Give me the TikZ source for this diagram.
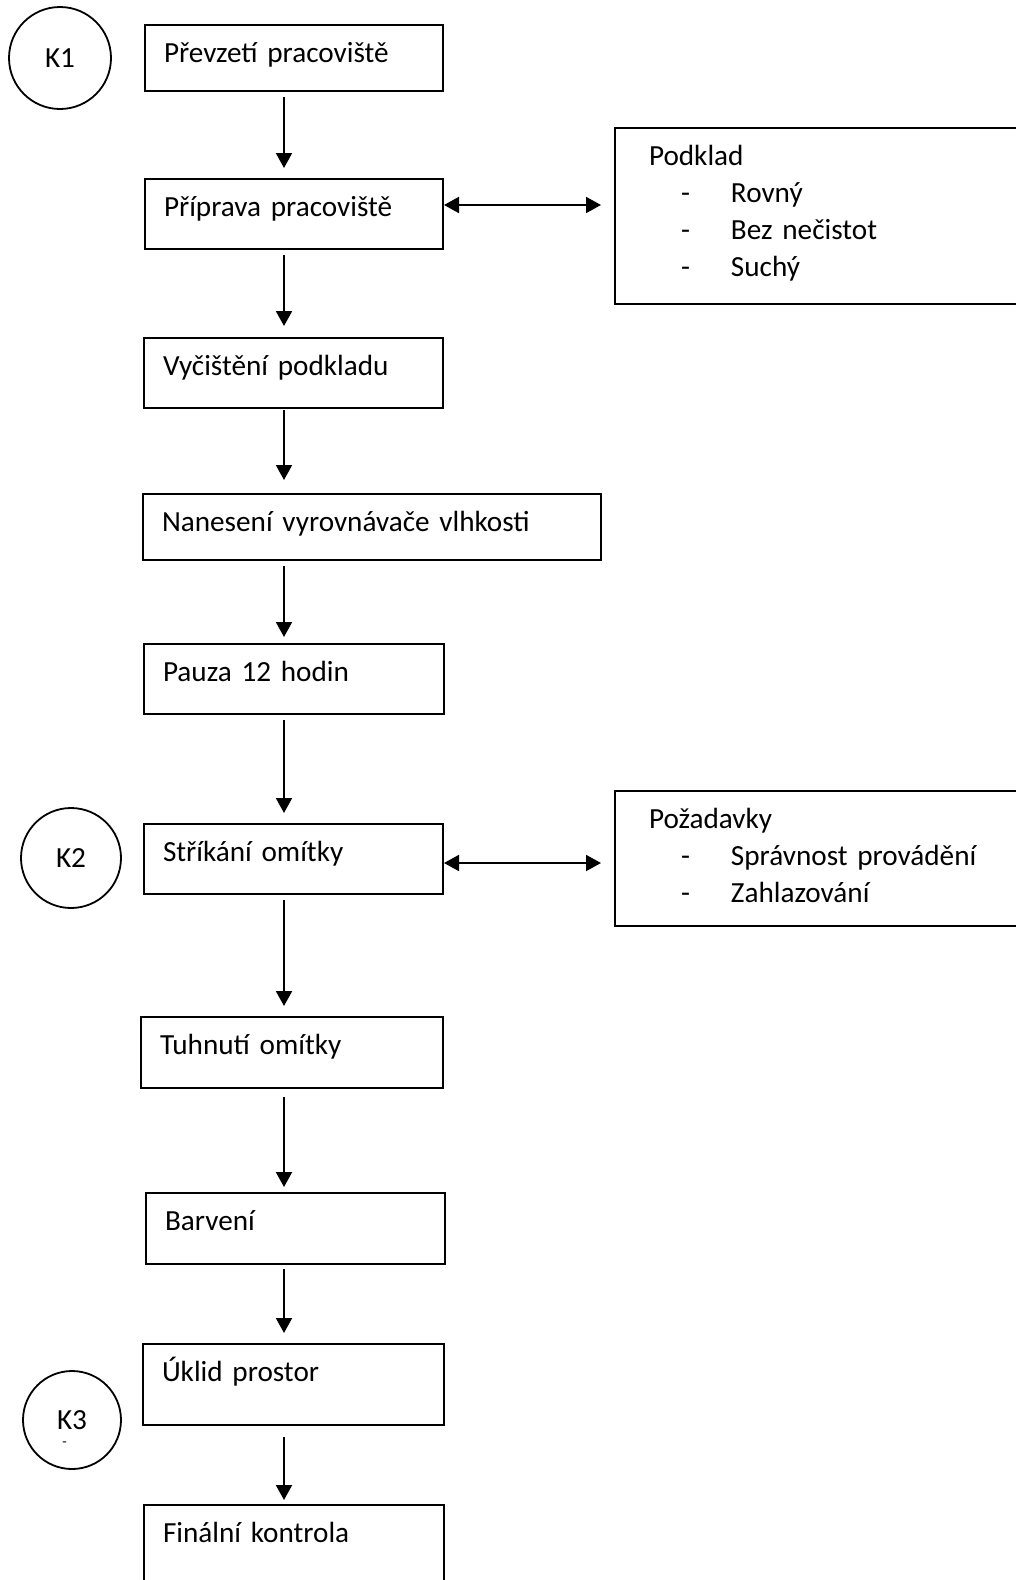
\documentclass[tikz,border=0pt]{standalone}
\usepackage{fontspec}
\setmainfont{Carlito}
\usetikzlibrary{arrows.meta}

\tikzset{
  stepbox/.style 2 args={draw, line width=1pt, anchor=north west, align=left,
    inner xsep=9.5pt, inner ysep=0pt, text height=18.5pt, text width=#1, text depth=#2},
  notebox/.style 2 args={draw, line width=1pt, anchor=north west, align=left,
    inner xsep=17pt, inner ysep=0pt, text height=18.5pt, text width=#1, text depth=#2},
  checkpt/.style={draw, circle, line width=0.9pt, minimum size=#1, inner sep=0pt},
  checkpt/.default=50pt,
  flow/.style={-{Triangle[width=8pt,length=7.5pt]}, line width=1pt},
  link/.style={{Triangle[width=8pt,length=7.5pt]}-{Triangle[width=8pt,length=7.5pt]}, line width=1pt},
}
\newcommand{\itm}[1]{\hspace*{16pt}\makebox[25pt][l]{-}#1}

\begin{document}
\begin{tikzpicture}[x=0.5pt,y=-0.5pt,every node/.style={font=\fontsize{14.6pt}{18.5pt}\selectfont}]
        \useasboundingbox (0,0) rectangle (1016,1580);

        % check points
        \node[checkpt=51pt] (k1) at (60,58) {K1};
        \node[checkpt] (k2) at (71,858) {K2};
        \node[checkpt=49pt] (k3) at (72,1420) {K3};
        \node[font=\fontsize{7.3pt}{8pt}\selectfont, inner sep=0pt] (k3dash) at (64.5,1444) {-};

        % steps
        \node[stepbox={130pt}{14.5pt}] (b1) at (144,24) {Převzetí pracoviště};
        \node[stepbox={130pt}{16.5pt}] (b2) at (144,178) {Příprava pracoviště};
        \node[stepbox={130.5pt}{16.5pt}] (b3) at (143,337) {Vyčištění podkladu};
        \node[stepbox={210pt}{14.5pt}] (b4) at (142,493) {Nanesení vyrovnávače vlhkosti};
        \node[stepbox={131pt}{16.5pt}] (b5) at (143,643) {Pauza 12 hodin};
        \node[stepbox={130.5pt}{16.5pt}] (b6) at (143,823) {Stříkání omítky};
        \node[stepbox={132pt}{17pt}] (b7) at (140,1016) {Tuhnutí omítky};
        \node[stepbox={130.5pt}{17pt}] (b8) at (145,1192) {Barvení};
        \node[stepbox={131.5pt}{22pt}] (b9) at (142,1343) {Úklid prostor};
        \node[stepbox={131pt}{31.5pt}] (b10) at (143,1504) {Finální kontrola};

        % notes
        \node[notebox={179pt}{69.5pt}] (pod) at (614,127)
          {Podklad\\ \itm{Rovný}\\ \itm{Bez nečistot}\\ \itm{Suchý}};
        \node[notebox={179pt}{49pt}] (poz) at (614,790)
          {Požadavky\\ \itm{Správnost provádění}\\ \itm{Zahlazování}};

        % flow
        \coordinate (ax) at (284,0);
        \foreach \a/\b/\s/\e in {b1/b2/2.5pt/5pt, b2/b3/2.5pt/5.5pt, b3/b4/0.5pt/6.5pt,
            b4/b5/2.5pt/3pt, b5/b6/2.5pt/5pt, b6/b7/2.5pt/5pt, b7/b8/4pt/2.5pt,
            b8/b9/2pt/5pt, b9/b10/5.5pt/2pt}
          \draw[flow, shorten <=\s, shorten >=\e] (\a.south -| ax) -- (\b.north -| ax);

        %% links to notes
        \coordinate (l1) at ([yshift=4.5pt]b2.east);
        \draw[link, shorten >=6.5pt] (l1) -- (l1 -| pod.west);
        \coordinate (l2) at ([yshift=-2pt]b6.east);
        \draw[link, shorten >=6.5pt] (l2) -- (l2 -| poz.west);

\end{tikzpicture}
\end{document}
